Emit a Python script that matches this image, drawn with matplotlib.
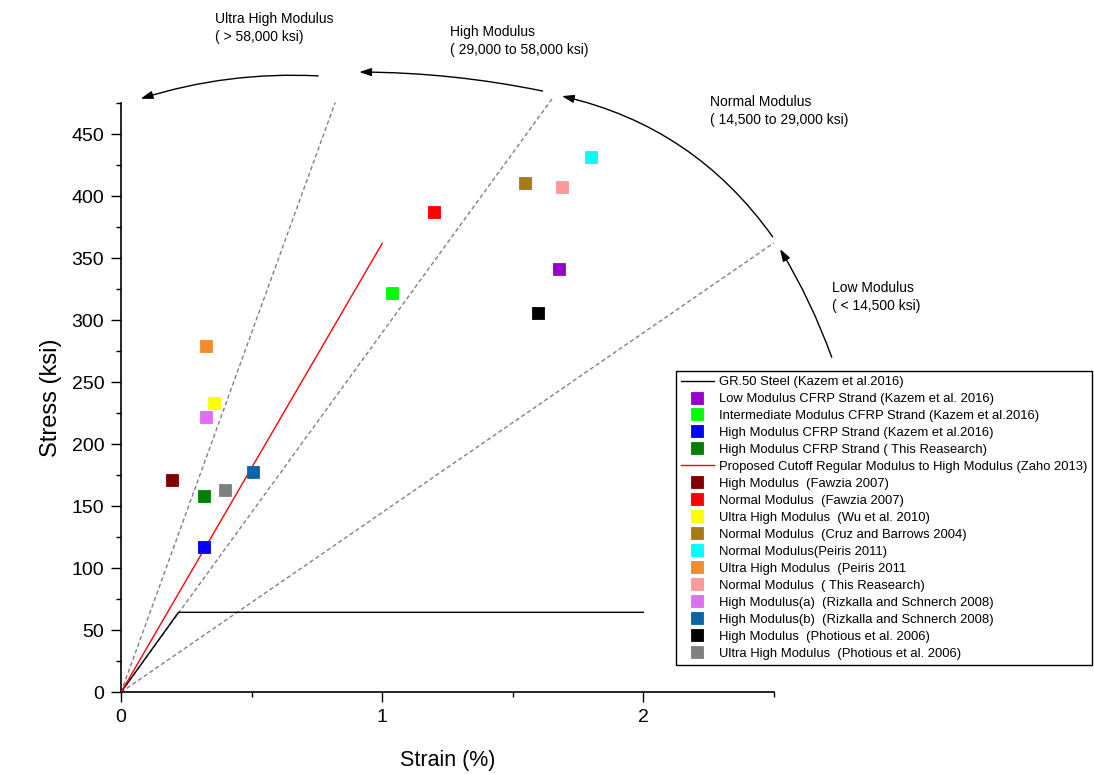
import matplotlib
matplotlib.use("Agg")
import matplotlib.pyplot as plt
from matplotlib.ticker import MultipleLocator

plt.rcParams['font.family'] = ['Liberation Sans', 'DejaVu Sans']

# ---------------- data ----------------
labels = [
    "Low Modulus CFRP Strand (Kazem et al. 2016)",
    "Intermediate Modulus CFRP Strand (Kazem et al.2016)",
    "High Modulus CFRP Strand (Kazem et al.2016)",
    "High Modulus CFRP Strand ( This Reasearch)",
    "High Modulus  (Fawzia 2007)",
    "Normal Modulus  (Fawzia 2007)",
    "Ultra High Modulus  (Wu et al. 2010)",
    "Normal Modulus  (Cruz and Barrows 2004)",
    "Normal Modulus(Peiris 2011)",
    "Ultra High Modulus  (Peiris 2011",
    "Normal Modulus  ( This Reasearch)",
    "High Modulus(a)  (Rizkalla and Schnerch 2008)",
    "High Modulus(b)  (Rizkalla and Schnerch 2008)",
    "High Modulus  (Photious et al. 2006)",
    "Ultra High Modulus  (Photious et al. 2006)",
]
strain = [1.677, 1.038, 0.317, 0.317, 0.195, 1.197, 0.355, 1.547, 1.799,
          0.327, 1.688, 0.327, 0.504, 1.598, 0.397]
stress = [341.0, 322.0, 117.2, 158.0, 170.9, 387.7, 233.1, 410.6, 431.7,
          279.0, 407.8, 222.4, 177.3, 305.6, 162.9]
colors = ['#9900cc', '#00ff00', '#0000ff', '#008000', '#800000', '#ff0000',
          '#ffff00', '#a77a14', '#00ffff', '#f28a30', '#ff9999', '#e06ef2',
          '#0a64a8', '#000000', '#808080']

steel_label = "GR.50 Steel (Kazem et al.2016)"
steel_strain = [0, 0.22, 2.0]
steel_stress = [0, 64.5, 64.5]

cutoff_label = "Proposed Cutoff Regular Modulus to High Modulus (Zaho 2013)"
cutoff_strain = [0, 1.0]
cutoff_stress = [0, 362]

# modulus boundary lines (ksi) and their end strains (%)
boundary_moduli = [58000, 29000, 14500]
boundary_end_strain = [0.82, 1.65, 2.5]

region_texts = [
    "Ultra High Modulus\n( > 58,000 ksi)",
    "High Modulus\n( 29,000 to 58,000 ksi)",
    "Normal Modulus\n( 14,500 to 29,000 ksi)",
    "Low Modulus\n( < 14,500 ksi)",
]

# ---------------- figure ----------------
W, H = 1094, 774
fig = plt.figure(figsize=(W / 100, H / 100), dpi=100)
ax = fig.add_axes([121 / W, 1 - 692.3 / H, 653 / W, 589 / H])

for E, e_end in zip(boundary_moduli, boundary_end_strain):
    ax.plot([0, e_end], [0, E * e_end / 100], color='#808080', lw=1.0,
            ls=(0, (3, 2)), clip_on=False, zorder=2)

steel_line, = ax.plot(steel_strain, steel_stress, color='black', lw=1.0, zorder=3)
cut_line, = ax.plot(cutoff_strain, cutoff_stress, color='red', lw=1.0, zorder=3)

handles = [steel_line]
for i, (x, y, c, lab) in enumerate(zip(strain, stress, colors, labels)):
    h, = ax.plot([x], [y], ls='none', marker='s', ms=8.6, color=c,
                 markeredgewidth=0.6, markeredgecolor=c, zorder=4)
    handles.append(h)
    if i == 3:
        handles.append(cut_line)
leg_labels = [steel_label] + labels[:4] + [cutoff_label] + labels[4:]

ax.set_xlim(0, 2.5)
ax.set_ylim(0, 475)
ax.xaxis.set_major_locator(MultipleLocator(1))
ax.xaxis.set_minor_locator(MultipleLocator(0.5))
ax.yaxis.set_major_locator(MultipleLocator(50))
ax.yaxis.set_minor_locator(MultipleLocator(25))
ax.tick_params(which='major', direction='out', length=7, width=1.0,
               labelsize=14, pad=5)
ax.tick_params(which='minor', direction='out', length=3.5, width=1.0)
for s in ['top', 'right']:
    ax.spines[s].set_visible(False)
for s in ['left', 'bottom']:
    ax.spines[s].set_linewidth(1.2)

ax.set_xlabel("Strain (%)", fontsize=15.5, labelpad=17)
ax.set_ylabel("Stress (ksi)", fontsize=17, labelpad=7)

# region annotations
text_pos = [(0.36, 535.6), (1.26, 525.5), (2.255, 468.8), (2.722, 319.1)]
for (tx, ty), t in zip(text_pos, region_texts):
    ax.text(tx, ty, t, fontsize=10, ha='left', va='center',
            linespacing=1.35, clip_on=False)

arcs = [((0.755, 497.1), (0.0754, 478.7), 0.09),
        ((1.614, 484.9), (0.912, 500.2), 0.05),
        ((2.495, 367.3), (1.688, 480.8), 0.19),
        ((2.721, 270.2), (2.523, 357.4), 0.05)]
for start, tip, rad in arcs:
    ax.annotate("", xy=tip, xytext=start, xycoords='data', textcoords='data',
                annotation_clip=False,
                arrowprops=dict(arrowstyle='-|>,head_length=0.6,head_width=0.2',
                                connectionstyle=f'arc3,rad={rad}',
                                color='black', lw=1.0, shrinkA=0, shrinkB=0,
                                mutation_scale=12))

leg = fig.legend(handles, leg_labels, loc='upper left',
                 bbox_to_anchor=(676 / W, 1 - 371 / H),
                 bbox_transform=fig.transFigure,
                 fontsize=9.4, frameon=True, fancybox=False, framealpha=1,
                 edgecolor='black', handlelength=2.5, handletextpad=0.4,
                 labelspacing=0.37, borderpad=0.38, borderaxespad=0)
leg.get_frame().set_linewidth(1.0)

fig.savefig("out.png", dpi=100)
